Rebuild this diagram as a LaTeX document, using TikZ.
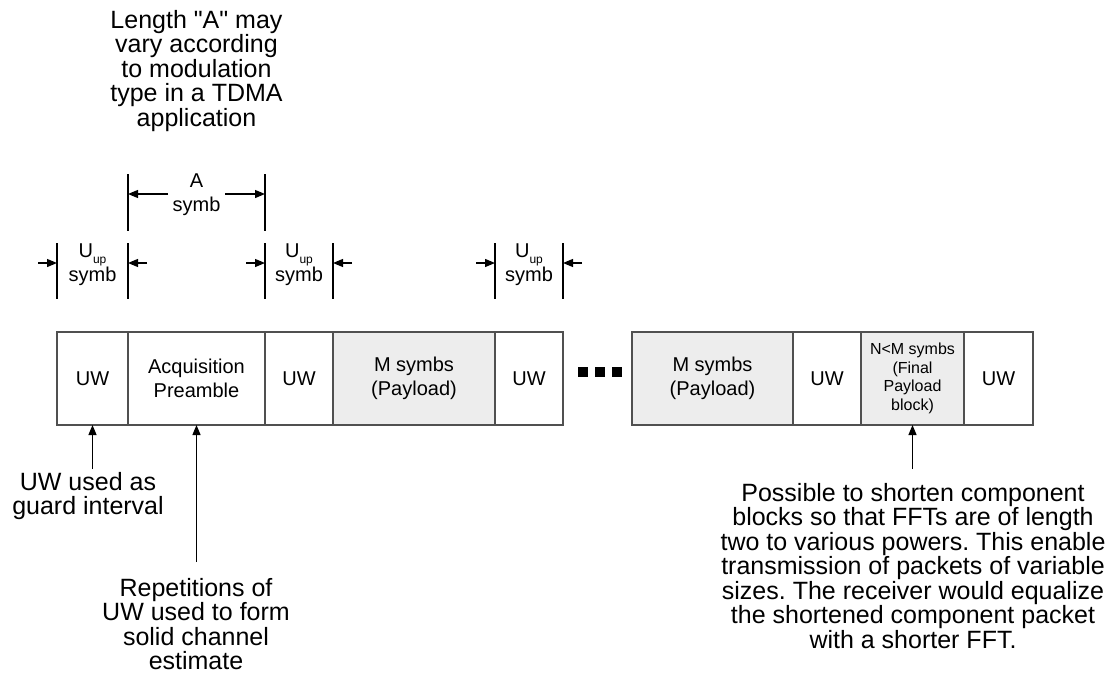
\documentclass[tikz,border=0pt]{standalone}
\usepackage{fontspec}
\setmainfont{Liberation Sans}[Ligatures=TeXOff]
\usetikzlibrary{arrows.meta}
\definecolor{edge}{RGB}{80,80,80}
\definecolor{payfill}{RGB}{237,237,237}
\frenchspacing
\begin{document}
\begin{tikzpicture}[x=1pt,y=-1pt,
  blk/.style={draw=edge, line width=1.2pt, minimum height=93pt, inner sep=0pt, outer sep=0pt,
              align=center, font=\fontsize{20}{24}\selectfont},
  pay/.style={blk, fill=payfill},
  note/.style={align=center, inner sep=0pt, font=\fontsize{25}{24.5}\selectfont},
  dimtxt/.style={align=center, inner sep=0pt, font=\fontsize{20}{24}\selectfont},
  tick/.style={line width=1.2pt},
  arr/.style={line width=1.2pt, -{Triangle[length=10pt,width=8pt]}},
  sq/.style={fill=black, minimum size=10pt, inner sep=0pt, outer sep=0pt}
]
\fill[white] (0,0) rectangle (1105,690);
\useasboundingbox (0,0) rectangle (1105,690);

% frame row
\node[blk, minimum width=71pt]  (b1) at (92.5,378.5) {UW};
\node[blk, minimum width=137pt] (b2) at (196.5,378.5) {Acquisition\\Preamble};
\node[blk, minimum width=68pt]  (b3) at (299,378.5) {UW};
\node[pay, minimum width=162pt] (b4) at (414,378.5) {M symbs\\(Payload)};
\node[blk, minimum width=68pt]  (b5) at (529,378.5) {UW};
\node[pay, minimum width=161pt] (b6) at (712.5,378.5) {M symbs\\(Payload)};
\node[blk, minimum width=68pt]  (b7) at (827,378.5) {UW};
\node[pay, minimum width=103pt, font=\fontsize{16}{18.5}\selectfont] (b8) at (912.5,378.5)
     {N<M symbs\\(Final\\Payload\\block)};
\node[blk, minimum width=69pt]  (b9) at (998.5,378.5) {UW};

% continuation dots
\node[sq] (d1) at (583,371.5) {};
\node[sq] (d2) at (600,371.5) {};
\node[sq] (d3) at (617,371.5) {};

% length A dimension
\draw[tick] (128,174) -- (128,231);
\draw[tick] (265,174) -- (265,231);
\node[dimtxt] (dimA) at (196.5,195) {A\\symb};
\coordinate (aL0) at (168,194); \coordinate (aL1) at (128,194);
\coordinate (aR0) at (225,194); \coordinate (aR1) at (265,194);
\draw[arr] (aL0) -- (aL1);
\draw[arr] (aR0) -- (aR1);

% UW length dimensions
\foreach \xl/\xr/\nm in {57/128/u1, 265/333/u2, 495/563/u3}{
  \draw[tick] (\xl,243) -- (\xl,299);
  \draw[tick] (\xr,243) -- (\xr,299);
  \node[dimtxt] (\nm) at ({(\xl+\xr)/2},265)
       {U\raisebox{-0.5ex}{\fontsize{12}{12}\selectfont up}\\symb};
  \coordinate (\nm l0) at ({\xl-19},263); \coordinate (\nm l1) at (\xl,263);
  \coordinate (\nm r0) at ({\xr+19},263); \coordinate (\nm r1) at (\xr,263);
  \draw[arr] (\nm l0) -- (\nm l1);
  \draw[arr] (\nm r0) -- (\nm r1);
}

% notes
\node[note] (top) at (196.5,71) {Length "A" may\\vary according\\to modulation\\type in a TDMA\\application};

\node[note] (n1) at (88,496) {UW used as\\guard interval};
\coordinate (p1) at (92.5,469);
\draw[arr] (p1) -- (b1.south);

\node[note] (n2) at (196,624) {Repetitions of\\UW used to form\\solid channel\\estimate};
\coordinate (p2) at (196.5,562);
\draw[arr] (p2) -- (b2.south);

\node[note] (n3) at (913,566) {Possible to shorten component\\blocks so that FFTs are of length\\two to various powers. This enable\\transmission of packets of variable\\sizes. The receiver would equalize\\the shortened component packet\\with a shorter FFT.};
\coordinate (p3) at (912.5,469);
\draw[arr] (p3) -- (b8.south);
\end{tikzpicture}
\end{document}
